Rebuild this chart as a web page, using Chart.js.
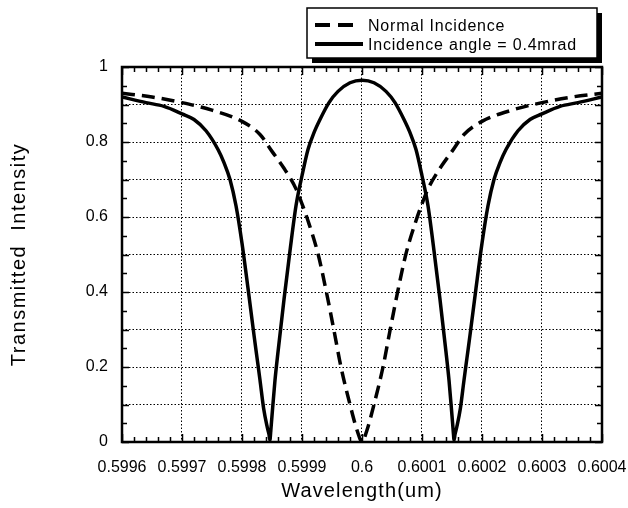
<!DOCTYPE html>
<html>
<head>
<meta charset="utf-8">
<script src="https://cdn.jsdelivr.net/npm/chart.js@4"></script>
<style>
  html, body { margin: 0; padding: 0; background: #fff; }
  canvas { display: block; }
</style>
</head>
<body>
<canvas id="transmission" width="628" height="508"></canvas>
<script>
// wavelength axis (um)
const xTickVals = [0.5996, 0.5997, 0.5998, 0.5999, 0.6, 0.6001, 0.6002, 0.6003, 0.6004];
const xTickLabels = ["0.5996", "0.5997", "0.5998", "0.5999", "0.6", "0.6001", "0.6002", "0.6003", "0.6004"];
const yTickVals = [0, 0.1, 0.2, 0.3, 0.4, 0.5, 0.6, 0.7, 0.8, 0.9, 1];
const yTickLabels = ["0", "", "0.2", "", "0.4", "", "0.6", "", "0.8", "", "1"];

const xTitle = "Wavelength(um)";
const yTitle = "Transmitted  Intensity";
const seriesLabels = ["Normal Incidence", "Incidence angle = 0.4mrad"];

// normal incidence (dashed)
const normalWl = [
  0.5996, 0.59965, 0.5997, 0.59975, 0.5998, 0.59983, 0.59985, 0.59987, 0.59989,
  0.5999, 0.59991, 0.599927, 0.59994, 0.599953, 0.599965, 0.59998, 0.599992, 0.6,
  0.600008, 0.60002, 0.600035, 0.600047, 0.60006, 0.600073, 0.60009, 0.6001,
  0.60011, 0.60013, 0.60015, 0.60017, 0.6002, 0.60025, 0.6003, 0.60035, 0.6004
];
const normalT = [
  0.93, 0.92, 0.905, 0.885, 0.855, 0.82, 0.775, 0.73, 0.675,
  0.635, 0.59, 0.5, 0.405, 0.3, 0.2, 0.1, 0.03, 0,
  0.03, 0.1, 0.2, 0.3, 0.405, 0.5, 0.59, 0.635,
  0.675, 0.73, 0.775, 0.82, 0.855, 0.885, 0.905, 0.92, 0.93
];

// 0.4 mrad incidence (solid)
const angledWl = [
  0.5996, 0.59964, 0.59967, 0.5997, 0.59972, 0.59974, 0.59976, 0.59977, 0.59978,
  0.59979, 0.5998, 0.59981, 0.59982, 0.599825, 0.59983, 0.599836, 0.599842,
  0.599845, 0.5998465, 0.599848, 0.59985, 0.599855, 0.59986, 0.59987, 0.59988,
  0.59989, 0.5999, 0.59991, 0.59992, 0.59993, 0.599945, 0.59996, 0.59998, 0.6,
  0.60002, 0.60004, 0.600055, 0.60007, 0.60008, 0.60009, 0.6001, 0.60011,
  0.60012, 0.60013, 0.60014, 0.600145, 0.60015, 0.600152, 0.6001535, 0.600155,
  0.600158, 0.600164, 0.60017, 0.600175, 0.60018, 0.60019, 0.6002, 0.60021,
  0.60022, 0.60023, 0.60024, 0.60026, 0.60028, 0.6003, 0.60033, 0.60036, 0.6004
];
const angledT = [
  0.92, 0.905, 0.895, 0.875, 0.86, 0.83, 0.78, 0.745, 0.7,
  0.63, 0.53, 0.41, 0.285, 0.225, 0.165, 0.09, 0.04,
  0.02, 0.005, 0.03, 0.07, 0.165, 0.24, 0.38, 0.51,
  0.63, 0.71, 0.78, 0.825, 0.86, 0.905, 0.935, 0.958, 0.965,
  0.958, 0.935, 0.905, 0.86, 0.825, 0.78, 0.71, 0.63,
  0.51, 0.38, 0.24, 0.165, 0.07, 0.03, 0.005, 0.02,
  0.04, 0.09, 0.165, 0.225, 0.285, 0.41, 0.53, 0.63,
  0.7, 0.745, 0.78, 0.83, 0.86, 0.875, 0.895, 0.905, 0.92
];

const FONT = "'Liberation Sans', Arial, sans-serif";

// frame plus inward ticks on all four sides
const framePlugin = {
  id: "frame",
  beforeDatasetsDraw(chart) {
    const { ctx, chartArea: a, scales } = chart;
    const xs = scales.x, ys = scales.y;
    ctx.save();
    ctx.strokeStyle = "#000";
    ctx.lineWidth = 1.5;
    ctx.beginPath();
    for (let i = 0; i < xTickVals.length; i++) {
      const px = Math.round(xs.getPixelForValue(xTickVals[i])) + 0.5;
      ctx.moveTo(px, a.bottom); ctx.lineTo(px, a.bottom - 8);
      ctx.moveTo(px, a.top); ctx.lineTo(px, a.top + 8);
      if (i < xTickVals.length - 1) {
        const step = (xTickVals[i + 1] - xTickVals[i]) / 5;
        for (let k = 1; k < 5; k++) {
          const mx = Math.round(xs.getPixelForValue(xTickVals[i] + step * k)) + 0.5;
          ctx.moveTo(mx, a.bottom); ctx.lineTo(mx, a.bottom - 5);
          ctx.moveTo(mx, a.top); ctx.lineTo(mx, a.top + 5);
        }
      }
    }
    for (let i = 0; i < yTickVals.length; i++) {
      const py = Math.round(ys.getPixelForValue(yTickVals[i])) + 0.5;
      ctx.moveTo(a.left, py); ctx.lineTo(a.left + 7, py);
      ctx.moveTo(a.right, py); ctx.lineTo(a.right - 7, py);
      if (i < yTickVals.length - 1) {
        const my = Math.round(ys.getPixelForValue((yTickVals[i] + yTickVals[i + 1]) / 2)) + 0.5;
        ctx.moveTo(a.left, my); ctx.lineTo(a.left + 5, my);
        ctx.moveTo(a.right, my); ctx.lineTo(a.right - 5, my);
      }
    }
    ctx.stroke();
    ctx.lineWidth = 2.5;
    ctx.strokeRect(a.left, a.top, a.right - a.left, a.bottom - a.top);
    ctx.restore();
  }
};

// axis titles (drawn here so the wide letter spacing can be kept)
const titlePlugin = {
  id: "axisTitles",
  afterDraw(chart) {
    const { ctx, chartArea: a } = chart;
    ctx.save();
    ctx.fillStyle = "#000";
    ctx.font = "20px " + FONT;
    ctx.letterSpacing = "1.1px";
    ctx.textAlign = "center";
    ctx.textBaseline = "middle";
    ctx.fillText(xTitle, (a.left + a.right) / 2, 491);
    ctx.translate(19, (a.top + a.bottom) / 2);
    ctx.rotate(-Math.PI / 2);
    ctx.letterSpacing = "1.5px";
    ctx.fillText(yTitle, 0, 0);
    ctx.restore();
  }
};

// boxed legend with a drop shadow, above the plot
const legendPlugin = {
  id: "boxLegend",
  afterDraw(chart) {
    const { ctx } = chart;
    const bx = 307, by = 8, bw = 290, bh = 50;
    ctx.save();
    ctx.fillStyle = "#000";
    ctx.fillRect(bx + 5, by + 5, bw, bh);
    ctx.fillStyle = "#fff";
    ctx.fillRect(bx, by, bw, bh);
    ctx.strokeStyle = "#000";
    ctx.lineWidth = 1.5;
    ctx.strokeRect(bx, by, bw, bh);
    const rows = [25, 44];
    chart.data.datasets.forEach((ds, i) => {
      ctx.beginPath();
      ctx.lineWidth = 4;
      ctx.strokeStyle = ds.borderColor;
      ctx.setLineDash(i === 0 ? [15, 8] : []);
      ctx.moveTo(315, rows[i]);
      ctx.lineTo(i === 0 ? 353 : 363, rows[i]);
      ctx.stroke();
      ctx.setLineDash([]);
      ctx.fillStyle = "#000";
      ctx.font = "16px " + FONT;
      ctx.letterSpacing = "0.8px";
      ctx.textBaseline = "middle";
      ctx.fillText(ds.label, 368, rows[i] + 2);
    });
    ctx.restore();
  }
};

new Chart(document.getElementById("transmission"), {
  type: "line",
  data: {
    datasets: [
      {
        label: seriesLabels[0],
        data: normalWl.map((w, i) => ({ x: w, y: normalT[i] })),
        borderColor: "#000",
        borderWidth: 3.5,
        borderDash: [13, 7],
        pointRadius: 0,
        cubicInterpolationMode: "monotone"
      },
      {
        label: seriesLabels[1],
        data: angledWl.map((w, i) => ({ x: w, y: angledT[i] })),
        borderColor: "#000",
        borderWidth: 3.5,
        pointRadius: 0,
        cubicInterpolationMode: "monotone"
      }
    ]
  },
  options: {
    responsive: false,
    animation: false,
    layout: { padding: { top: 67, right: 26, left: 0, bottom: 0 } },
    plugins: { legend: { display: false }, tooltip: { enabled: false } },
    scales: {
      x: {
        type: "linear",
        min: 0.5996,
        max: 0.6004,
        afterBuildTicks: s => { s.ticks = xTickVals.map(v => ({ value: v })); },
        afterFit: s => { s.height = 66; s.paddingLeft = 0; s.paddingRight = 0; },
        ticks: {
          callback: (v, i) => xTickLabels[i],
          color: "#000",
          font: { family: FONT, size: 16 },
          padding: 16,
          maxRotation: 0,
          autoSkip: false
        },
        grid: { color: "#000", lineWidth: 1, drawTicks: false, tickLength: 0 },
        border: { display: false, dash: [1.5, 2] }
      },
      y: {
        type: "linear",
        min: 0,
        max: 1,
        afterBuildTicks: s => { s.ticks = yTickVals.map(v => ({ value: v })); },
        afterFit: s => { s.width = 122; },
        ticks: {
          callback: (v, i) => yTickLabels[i],
          color: "#000",
          font: { family: FONT, size: 16 },
          padding: 14,
          autoSkip: false
        },
        grid: { color: "#000", lineWidth: 1, drawTicks: false, tickLength: 0 },
        border: { display: false, dash: [1.5, 2] }
      }
    }
  },
  plugins: [framePlugin, titlePlugin, legendPlugin]
});
</script>
</body>
</html>
